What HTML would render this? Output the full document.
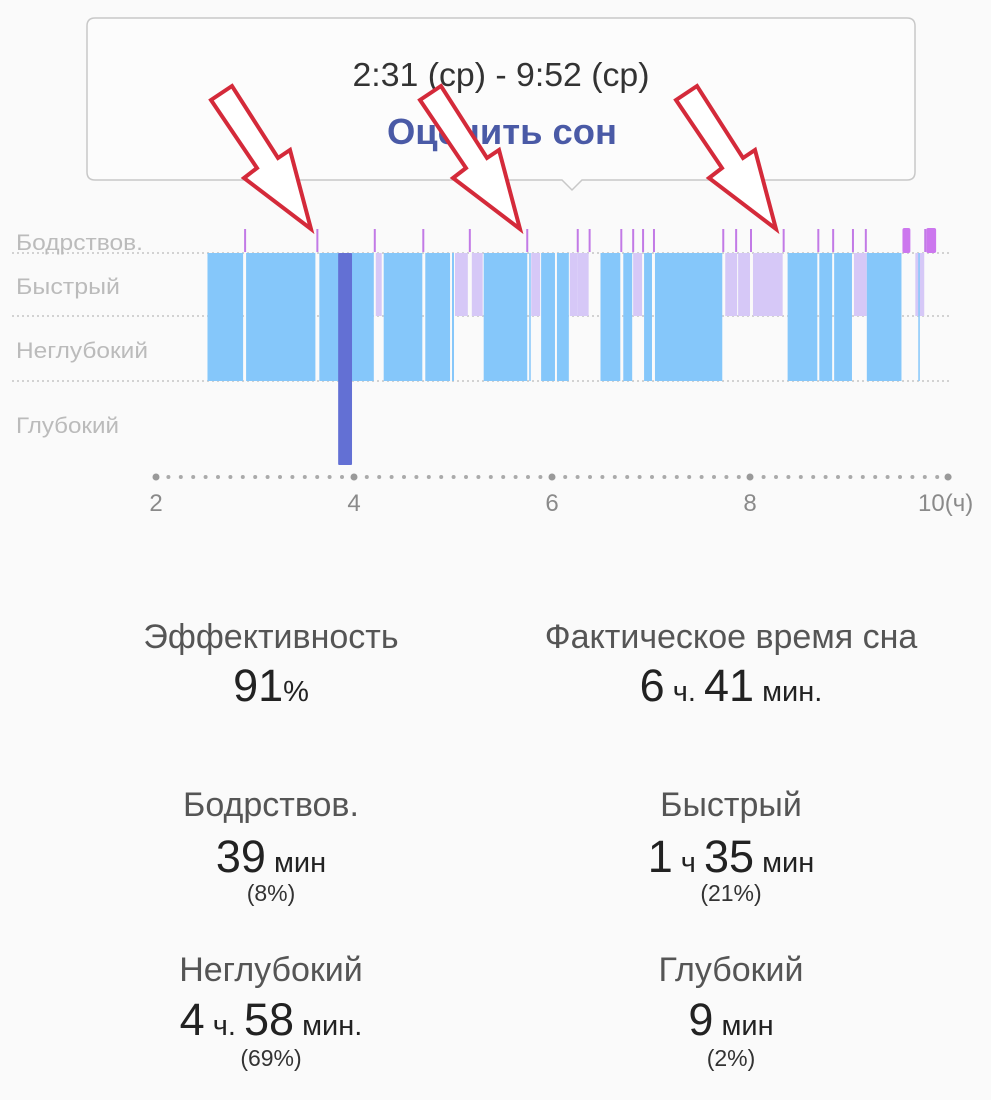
<!DOCTYPE html>
<html><head><meta charset="utf-8">
<style>
html,body{margin:0;padding:0;background:#fafafa;}
body{width:991px;height:1100px;position:relative;overflow:hidden;font-family:"Liberation Sans","DejaVu Sans",sans-serif;}
.ln{position:absolute;width:460px;text-align:center;white-space:nowrap;}
.t{font-size:34px;color:#555;line-height:40px;}
.v{font-size:45px;color:#222;line-height:50px;}
.v small{font-size:29px;}
.p{font-size:23px;color:#333;line-height:28px;}
</style></head>
<body>
<svg id="chart" width="991" height="560" style="position:absolute;left:0;top:0">
  <g id="grid"></g>
  <g id="marks"></g>
  <g id="axis"></g>
  <g>
    <path d="M95,18 H907 Q915,18 915,26 V172 Q915,180 907,180 H582 L572,190 L562,180 H95 Q87,180 87,172 V26 Q87,18 95,18 Z" fill="#fcfcfc" stroke="#c8c8c8" stroke-width="1.5"/>
    <text x="501" y="86" text-anchor="middle" font-size="33" fill="#333" textLength="297" lengthAdjust="spacingAndGlyphs">2:31 (ср) - 9:52 (ср)</text>
    <text x="502" y="144" text-anchor="middle" font-size="36" font-weight="bold" fill="#4a5aa6" textLength="230" lengthAdjust="spacingAndGlyphs">Оценить сон</text>
  </g>
  <g id="arrows"></g>
  <text x="16" y="250" font-size="22" fill="#bbb" textLength="127" lengthAdjust="spacingAndGlyphs">Бодрствов.</text>
  <text x="16" y="294" font-size="22" fill="#bbb" textLength="104" lengthAdjust="spacingAndGlyphs">Быстрый</text>
  <text x="16" y="358" font-size="22" fill="#bbb" textLength="132" lengthAdjust="spacingAndGlyphs">Неглубокий</text>
  <text x="16" y="433" font-size="22" fill="#bbb" textLength="103" lengthAdjust="spacingAndGlyphs">Глубокий</text>
</svg>

<div>
<div class="ln t" style="left:41px;top:617px">Эффективность</div>
<div class="ln v" style="left:41px;top:661px">91<small>%</small></div></div>
<div>
<div class="ln t" style="left:501px;top:617px">Фактическое время сна</div>
<div class="ln v" style="left:501px;top:661px">6<small> ч. </small>41<small> мин.</small></div></div>
<div>
<div class="ln t" style="left:41px;top:785px">Бодрствов.</div>
<div class="ln v" style="left:41px;top:832px">39<small> мин</small></div>
<div class="ln p" style="left:41px;top:879px">(8%)</div></div>
<div>
<div class="ln t" style="left:501px;top:785px">Быстрый</div>
<div class="ln v" style="left:501px;top:832px">1<small> ч </small>35<small> мин</small></div>
<div class="ln p" style="left:501px;top:879px">(21%)</div></div>
<div>
<div class="ln t" style="left:41px;top:950px">Неглубокий</div>
<div class="ln v" style="left:41px;top:995px">4<small> ч. </small>58<small> мин.</small></div>
<div class="ln p" style="left:41px;top:1044px">(69%)</div></div>
<div>
<div class="ln t" style="left:501px;top:950px">Глубокий</div>
<div class="ln v" style="left:501px;top:995px">9<small> мин</small></div>
<div class="ln p" style="left:501px;top:1044px">(2%)</div></div>

<script>
const segStart = [2.52,2.91,3.65,4.22,4.30,4.72,4.99,5.02,5.19,5.31,5.77,5.79,5.89,6.05,6.18,6.26,6.49,6.72,6.82,6.93,7.04,7.75,7.88,8.03,8.38,8.70,8.85,9.05,9.18,9.54,9.67,9.70,9.78];
const segEnd   = [2.88,3.61,4.20,4.28,4.69,4.97,5.01,5.15,5.30,5.75,5.78,5.88,6.03,6.17,6.26,6.37,6.69,6.81,6.91,7.01,7.72,7.87,8.00,8.33,8.68,8.83,9.03,9.18,9.53,9.62,9.76,9.71,9.88];
const segStage = ["light","light","light","rem","light","light","light","rem","rem","light","light","rem","light","light","rem","rem","light","light","rem","light","light","rem","rem","rem","light","light","light","rem","light","awake","rem","light","awake"];
const deepStart = [3.84];
const deepEnd = [3.98];
const wakeTicks = [2.90,3.63,4.21,4.70,5.17,5.75,6.26,6.38,6.70,6.82,6.92,7.03,7.73,7.86,8.01,8.34,8.69,8.84,9.04,9.17,9.77];
const tickHours = [2,4,6,8,10];
const tickLabels = ["2","4","6","8","10(ч)"];

const NS="http://www.w3.org/2000/svg";
const x = h => 156 + (h-2)*99;
const levelTop = {awake:228, rem:253, light:253, deep:253};
const levelBot = {awake:253, rem:316, light:381, deep:465};
const colors = {awake:"#cc77ee", rem:"#d6c8f7", light:"#85c7fa", deep:"#6370d4"};
function mk(tag, attrs){const e=document.createElementNS(NS,tag);for(const k in attrs)e.setAttribute(k,attrs[k]);return e;}

const grid=document.getElementById('grid');
[253,316,381].forEach(y=>{
  const l=mk('line',{x1:12,x2:950,y1:y,y2:y,stroke:'#c4c4c4','stroke-width':1.5,'stroke-dasharray':'2 3'});
  
  
  grid.appendChild(l);
});

const marks=document.getElementById('marks');
for(let i=0;i<segStart.length;i++){
  const s=segStage[i];
  const r=mk('rect',{x:x(segStart[i]),y:levelTop[s],width:Math.max(1.5,x(segEnd[i])-x(segStart[i])),height:levelBot[s]-levelTop[s],fill:colors[s],rx:s==='awake'?2:0});
  
  
  marks.appendChild(r);
}
for(let i=0;i<deepStart.length;i++){
  const r=mk('rect',{x:x(deepStart[i]),y:253,width:x(deepEnd[i])-x(deepStart[i]),height:212,fill:colors.deep,rx:1});
  
  
  marks.appendChild(r);
}
wakeTicks.forEach(h=>{
  const l=mk('line',{x1:x(h),x2:x(h),y1:229,y2:252,stroke:'#c27ae6','stroke-width':2});
  
  
  marks.appendChild(l);
});

const axis=document.getElementById('axis');
for(let px=156;px<=950;px+=12.4){
  const c=mk('circle',{cx:px,cy:477,r:2,fill:'#aaa'});
  
  
  axis.appendChild(c);
}
tickHours.forEach((h,i)=>{
  const c=mk('circle',{cx:x(h),cy:477,r:3.5,fill:'#999'});
  
  
  axis.appendChild(c);
  const t=mk('text',{x:x(h),y:511,'text-anchor':i===4?'start':'middle','font-size':24,fill:'#8a8a8a'});
  if(i===4){t.setAttribute('x',x(h)-30);}
  t.textContent=tickLabels[i];
  
  
  axis.appendChild(t);
});

const arrows=document.getElementById('arrows');
const base=[[211,100],[232,86],[278,158],[290,150],[311,229],[244,178],[257,168]];
[0,209,465].forEach(dx=>{
  const p=mk('polygon',{points:base.map(q=>(q[0]+dx)+','+q[1]).join(' '),fill:'#fff',stroke:'#d42a3a','stroke-width':4,'stroke-linejoin':'miter'});
  
  
  arrows.appendChild(p);
});
</script>
</body></html>
